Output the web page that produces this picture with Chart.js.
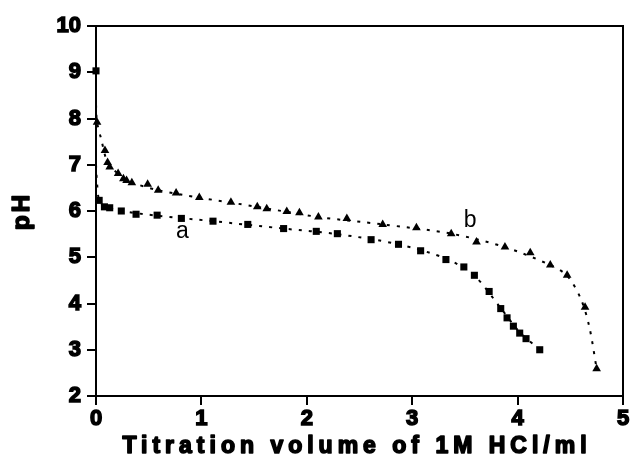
<!DOCTYPE html>
<html>
<head>
<meta charset="utf-8">
<script src="https://cdn.jsdelivr.net/npm/chart.js@4"></script>
<style>
  html, body { margin: 0; padding: 0; background: #fff; }
  #wrap { width: 632px; height: 465px; }
</style>
</head>
<body>
<div id="wrap"><canvas id="phChart" width="632" height="465"></canvas></div>
<script>
// curve a (squares)
const volA = [0, 0.03, 0.08, 0.13, 0.24, 0.38, 0.58, 0.81, 1.11, 1.44, 1.78, 2.09, 2.29, 2.61, 2.87, 3.08, 3.32, 3.49, 3.59, 3.73, 3.84, 3.90, 3.96, 4.02, 4.08, 4.21];
const phA  = [9.03, 6.23, 6.09, 6.07, 6.0, 5.93, 5.91, 5.84, 5.78, 5.71, 5.62, 5.56, 5.51, 5.38, 5.28, 5.14, 4.95, 4.79, 4.61, 4.26, 3.89, 3.69, 3.51, 3.36, 3.24, 3.0];

// curve b (triangles)
const volB = [0.01, 0.085, 0.11, 0.13, 0.21, 0.26, 0.29, 0.34, 0.49, 0.59, 0.76, 0.98, 1.28, 1.53, 1.62, 1.81, 1.93, 2.11, 2.38, 2.72, 3.04, 3.37, 3.61, 3.88, 4.12, 4.31, 4.47, 4.64, 4.75];
const phB  = [7.92, 7.31, 7.05, 6.95, 6.81, 6.70, 6.66, 6.61, 6.58, 6.45, 6.39, 6.29, 6.19, 6.09, 6.05, 5.99, 5.96, 5.87, 5.84, 5.71, 5.64, 5.51, 5.33, 5.22, 5.10, 4.83, 4.61, 3.92, 2.59];

// dotted fitted curves
const fitVolA = [0, 0.01, 0.03, 0.08, 0.24, 0.58, 1.11, 1.78, 2.29, 2.87, 3.32, 3.59, 3.84, 4.02, 4.21];
const fitPhA  = [7.0, 6.6, 6.23, 6.1, 6.0, 5.9, 5.78, 5.62, 5.5, 5.28, 4.97, 4.6, 3.9, 3.38, 3.0];
const fitVolB = [0, 0.01, 0.05, 0.11, 0.21, 0.34, 0.59, 0.98, 1.53, 2.11, 2.72, 3.37, 3.88, 4.31, 4.47, 4.6, 4.68, 4.75];
const fitPhB  = [8.3, 7.92, 7.55, 7.05, 6.81, 6.62, 6.45, 6.29, 6.09, 5.87, 5.71, 5.51, 5.22, 4.83, 4.6, 4.1, 3.5, 2.59];

const xTicks = [0, 1, 2, 3, 4, 5];
const yTicks = [2, 3, 4, 5, 6, 7, 8, 9, 10];
const xTitle = "Titration volume of 1M HCl/ml";
const yTitle = "pH";

function pairs(xs, ys) {
    return xs.map((x, i) => ({x: x, y: ys[i]}));
}

const FONT = "'Liberation Sans', Arial, sans-serif";

// box round the plot, the a/b labels and the spaced axis titles
const decorations = {
    id: 'decorations',
    afterDraw(chart) {
        const ctx = chart.ctx;
        const area = chart.chartArea;
        const xs = chart.scales.x, ys = chart.scales.y;
        ctx.save();
        ctx.strokeStyle = '#000';
        ctx.lineWidth = 2;
        ctx.strokeRect(area.left, area.top, area.right - area.left, area.bottom - area.top);

        ctx.fillStyle = '#000';
        ctx.font = "23px " + FONT;
        ctx.textAlign = 'center';
        ctx.textBaseline = 'middle';
        ctx.fillText('a', xs.getPixelForValue(0.82), ys.getPixelForValue(5.55));
        ctx.fillText('b', xs.getPixelForValue(3.55), ys.getPixelForValue(5.8));

        // heavy bold titles: fill plus a thin stroke
        ctx.font = "bold 23px " + FONT;
        ctx.lineWidth = 1.6;
        ctx.lineJoin = 'round';
        ctx.letterSpacing = '5px';
        ctx.fillText(xTitle, 357, 447);
        ctx.strokeText(xTitle, 357, 447);

        ctx.translate(22, 211);
        ctx.rotate(-Math.PI / 2);
        ctx.font = "bold 24px " + FONT;
        ctx.letterSpacing = '3px';
        ctx.fillText(yTitle, 0, 0);
        ctx.strokeText(yTitle, 0, 0);
        ctx.restore();
    }
};

const ctx = document.getElementById('phChart').getContext('2d');
const tickFont = {family: FONT, size: 22, weight: 'bold'};

new Chart(ctx, {
    type: 'scatter',
    data: {
        datasets: [
            {
                data: pairs(fitVolA, fitPhA),
                showLine: true,
                borderColor: '#000',
                borderWidth: 2,
                borderDash: [3, 7],
                pointRadius: 0,
                tension: 0.3,
                clip: false
            },
            {
                data: pairs(fitVolB, fitPhB),
                showLine: true,
                borderColor: '#000',
                borderWidth: 2,
                borderDash: [3, 7],
                pointRadius: 0,
                tension: 0.3,
                clip: false
            },
            {
                data: pairs(volA, phA),
                pointStyle: 'rect',
                pointRadius: 5,
                backgroundColor: '#000',
                borderColor: '#000',
                borderWidth: 0,
                clip: false
            },
            {
                data: pairs(volB, phB),
                pointStyle: 'triangle',
                pointRadius: 5,
                backgroundColor: '#000',
                borderColor: '#000',
                borderWidth: 0,
                clip: false
            }
        ]
    },
    options: {
        responsive: false,
        animation: false,
        layout: {padding: {top: 26, right: 9, left: 0, bottom: 0}},
        plugins: {legend: {display: false}, tooltip: {enabled: false}},
        scales: {
            x: {
                type: 'linear',
                min: 0,
                max: 5,
                afterBuildTicks: scale => { scale.ticks = xTicks.map(v => ({value: v})); },
                afterFit: scale => { scale.height = 69; },
                ticks: {color: '#000', font: tickFont, padding: 1, textStrokeColor: '#000', textStrokeWidth: 1.5},
                grid: {drawOnChartArea: false, color: '#000', tickLength: 9, lineWidth: 2},
                border: {color: '#000', width: 2}
            },
            y: {
                type: 'linear',
                min: 2,
                max: 10,
                afterBuildTicks: scale => { scale.ticks = yTicks.map(v => ({value: v})); },
                afterFit: scale => { scale.width = 96; },
                ticks: {color: '#000', font: tickFont, padding: 6, textStrokeColor: '#000', textStrokeWidth: 1.5},
                grid: {drawOnChartArea: false, color: '#000', tickLength: 9, lineWidth: 2},
                border: {color: '#000', width: 2}
            }
        }
    },
    plugins: [decorations]
});
</script>
</body>
</html>
